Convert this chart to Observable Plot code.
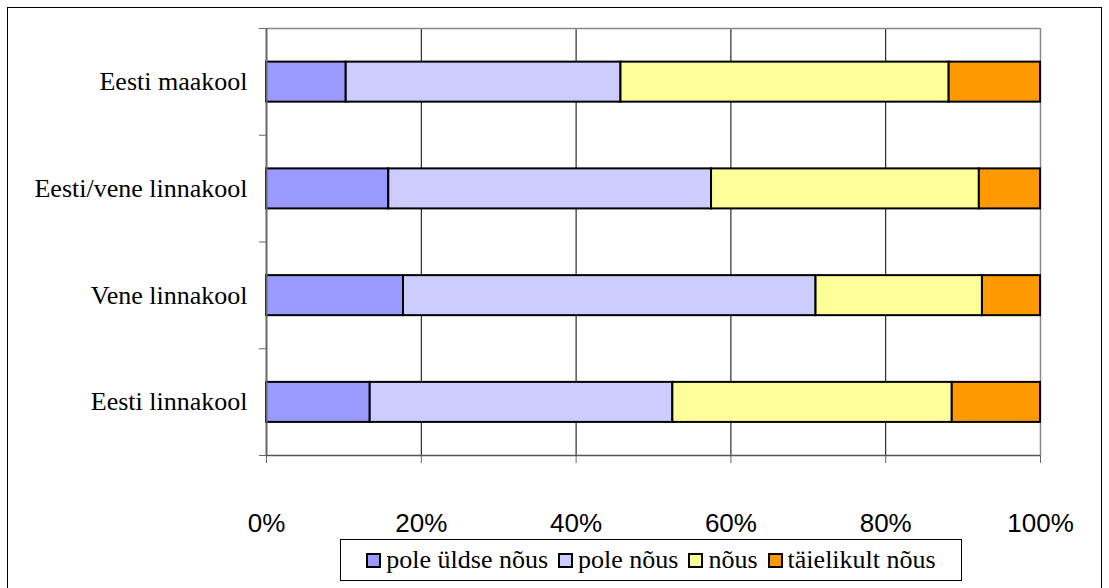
<!DOCTYPE html>
<html><head><meta charset="utf-8">
<script src="https://cdn.jsdelivr.net/npm/d3@7"></script>
<script src="https://cdn.jsdelivr.net/npm/@observablehq/plot@0.6"></script>
<style>
html,body{margin:0;padding:0;background:#fff;}
body{width:1109px;height:588px;overflow:hidden;position:relative;}
#frame{position:absolute;left:7px;top:7px;width:1095px;height:600px;border:1.5px solid #000;box-sizing:border-box;}
#chart{position:absolute;left:0;top:0;}
#legend{position:absolute;left:340px;top:539px;width:622px;height:42px;border:1px solid #000;box-sizing:border-box;display:flex;align-items:center;justify-content:center;font-family:"Liberation Serif",serif;font-size:26px;color:#000;background:#fff;white-space:nowrap;}
#legend .item{display:flex;align-items:center;margin:0 5px;}
#legend .sw{width:11px;height:11px;border:2.5px solid #000;margin-right:5px;}
</style></head>
<body>
<div id="frame"></div>
<div id="chart"></div>
<div id="legend"></div>
<script>
const categories = ["Eesti maakool","Eesti/vene linnakool","Vene linnakool","Eesti linnakool"];
const answers = ["pole üldse nõus","pole nõus","nõus","täielikult nõus"];
const poleYldseNous = [10.3,15.8,17.7,13.4];
const poleNous = [35.5,41.7,53.3,39.1];
const nous = [42.4,34.6,21.5,36.1];
const taielikultNous = [11.8,7.9,7.5,11.4];
const colors = ["#9999FF","#CCCCFF","#FFFF99","#FF9900"];
const xTicks = [0,20,40,60,80,100];

const series = [poleYldseNous, poleNous, nous, taielikultNous];
const rows = [];
categories.forEach((cat, i) => {
  let acc = 0;
  answers.forEach((ans, j) => {
    const v = series[j][i];
    rows.push({cat, idx: i, answer: ans, x1: acc, x2: acc + v});
    acc += v;
  });
});

const chart = Plot.plot({
  width: 1109, height: 530,
  marginLeft: 266, marginRight: 69, marginTop: 28, marginBottom: 75,
  style: {background: "transparent", overflow: "visible"},
  x: {domain: [0, 100], axis: null},
  y: {domain: [0, 4], reverse: true, axis: null},
  color: {domain: answers, range: colors},
  marks: [
    Plot.ruleX([20, 40, 60, 80], {stroke: "#000", strokeWidth: 1}),
    Plot.ruleY([0], {stroke: "#888", strokeWidth: 1.5}),
    Plot.ruleX([100], {stroke: "#888", strokeWidth: 1.5}),
    Plot.rect(rows, {x1: "x1", x2: "x2", y1: d => d.idx + 0.315, y2: d => d.idx + 0.69,
      fill: "answer", stroke: "#000", strokeWidth: 2}),
    Plot.axisX({ticks: xTicks, tickFormat: d => d + "%", tickSize: 8, tickPadding: 50,
      fontSize: 26, fontFamily: "Liberation Sans, Arial, sans-serif", stroke: "#666", fill: "#000"}),
    Plot.ruleY([4], {stroke: "#555", strokeWidth: 1.5}),
    Plot.axisY({ticks: [0, 1, 2, 3, 4], tickFormat: () => "", tickSize: 7, stroke: "#666"}),
    Plot.axisY({ticks: [0.5, 1.5, 2.5, 3.5], tickFormat: d => categories[Math.floor(d)],
      tickSize: 0, tickPadding: 19, fontSize: 26, fontFamily: "Liberation Serif, Times New Roman, serif", fill: "#000"}),
    Plot.ruleX([0], {stroke: "#666", strokeWidth: 2})
  ]
});
document.getElementById("chart").appendChild(chart);

const legend = document.getElementById("legend");
answers.forEach((a, j) => {
  const it = document.createElement("div");
  it.className = "item";
  const sw = document.createElement("div");
  sw.className = "sw";
  sw.style.background = colors[j];
  const t = document.createElement("span");
  t.textContent = a;
  it.appendChild(sw); it.appendChild(t);
  legend.appendChild(it);
});
</script>
</body></html>
